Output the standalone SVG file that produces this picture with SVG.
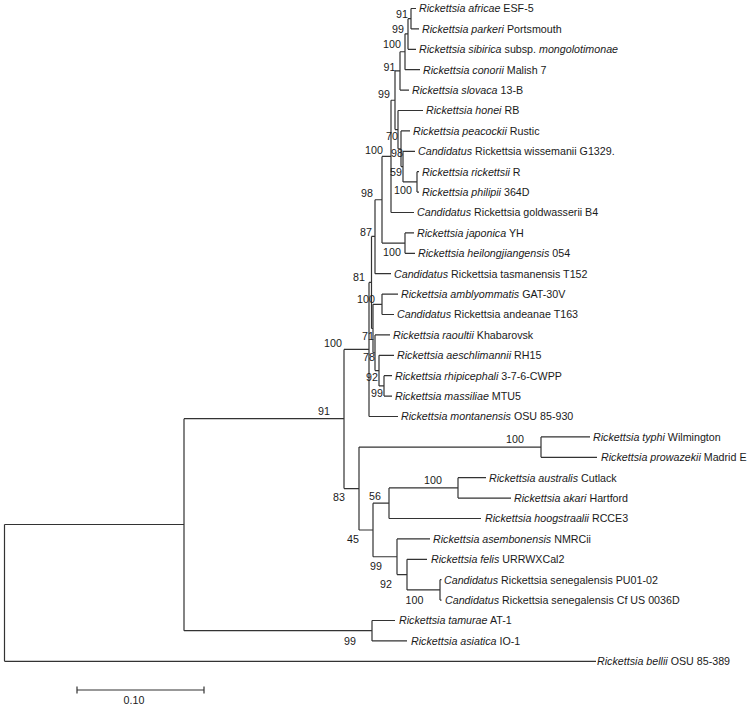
<svg xmlns="http://www.w3.org/2000/svg" width="749" height="706" viewBox="0 0 749 706">
<style>
text{font-family:"Liberation Sans",Arial,sans-serif;font-size:10.7px;fill:#1a1a1a}
.i{font-style:italic}
.bs{text-anchor:middle}
.br{fill:none;stroke:#333;stroke-width:1.2}
</style>
<rect width="749" height="706" fill="#fff"/>
<g id="connectors">
<path class="br" d="
M4.5 524.5V661.3 M4.5 661.3H596 M4.5 524.5H184
M184 418.7V630.7 M184 418.7H344 M184 630.7H372
M372 620.5V640.9 M372 620.5H395 M372 640.9H407
M344 349.45V488.55 M344 349.45H369 M344 488.55H359
M359 447.1V530 M359 447.1H541 M359 530H373
M541 436.9V457.3 M541 436.9H590 M541 457.3H597
M373 503.2V556.75 M373 503.2H389 M373 556.75H397
M389 487.9V518.5 M389 487.9H458 M389 518.5H481
M458 477.7V498.1 M458 477.7H486 M458 498.1H511
M397 538.9V574.6 M397 538.9H430 M397 574.6H407
M407 559.3V589.9 M407 559.3H427 M407 589.9H440
M440 579.7V600.1 M440 579.7H441.5 M440 600.1H441.5
M369 282.4V416.5 M369 282.4H371.5 M369 416.5H398
M371.5 236.4V328.5 M371.5 236.4H375 M371.5 328.5H373
M375 199.75V273.7 M375 199.75H382 M375 273.7H391
M382 156.4V243.1 M382 156.4H391 M382 243.1H405
M405 232.9V253.3 M405 232.9H414 M405 253.3H415
M391 100.25V212.5 M391 100.25H395 M391 212.5H414
M395 70.9V129.6 M395 70.9H400 M395 129.6H398
M400 51.75V90.1 M400 51.75H405 M400 90.1H409
M405 33.8V69.7 M405 33.8H408 M405 69.7H420
M408 18.7V49.3 M408 18.7H411 M408 49.3H416
M411 8.5V28.9 M411 8.5H416 M411 28.9H419
M398 110.5V148.75 M398 110.5H423 M398 148.75H401
M401 130.9V166.6 M401 130.9H410 M401 166.6H403
M403 151.3V181.9 M403 151.3H415 M403 181.9H417
M417 171.7V192.1 M417 171.7H419 M417 192.1H419
M373 304.3V352.75 M373 304.3H382 M373 352.75H375
M382 294.1V314.5 M382 294.1H398 M382 314.5H394
M375 334.9V370.6 M375 334.9H390 M375 370.6H379
M379 355.3V385.9 M379 355.3H394 M379 385.9H384
M384 375.7V396.1 M384 375.7H392 M384 396.1H392
"/>
</g>
<g id="leaf-africae"><text x="419" y="12.3"><tspan class="i">Rickettsia africae</tspan> ESF-5</text></g>
<g id="leaf-parkeri"><text x="422" y="32.7"><tspan class="i">Rickettsia parkeri</tspan> Portsmouth</text></g>
<g id="leaf-sibirica"><text x="419" y="53.1"><tspan class="i">Rickettsia sibirica</tspan> subsp. <tspan class="i">mongolotimonae</tspan></text></g>
<g id="leaf-conorii"><text x="423" y="73.5"><tspan class="i">Rickettsia conorii</tspan> Malish 7</text></g>
<g id="leaf-slovaca"><text x="412" y="93.9"><tspan class="i">Rickettsia slovaca</tspan> 13-B</text></g>
<g id="leaf-honei"><text x="426" y="114.3"><tspan class="i">Rickettsia honei</tspan> RB</text></g>
<g id="leaf-peacockii"><text x="413" y="134.7"><tspan class="i">Rickettsia peacockii</tspan> Rustic</text></g>
<g id="leaf-wissemanii"><text x="418" y="155.1"><tspan class="i">Candidatus</tspan> Rickettsia wissemanii G1329.</text></g>
<g id="leaf-rickettsii"><text x="422" y="175.5"><tspan class="i">Rickettsia rickettsii</tspan> R</text></g>
<g id="leaf-philipii"><text x="422" y="195.9"><tspan class="i">Rickettsia philipii</tspan> 364D</text></g>
<g id="leaf-goldwasserii"><text x="417" y="216.3"><tspan class="i">Candidatus</tspan> Rickettsia goldwasserii B4</text></g>
<g id="leaf-japonica"><text x="417" y="236.7"><tspan class="i">Rickettsia japonica</tspan> YH</text></g>
<g id="leaf-heilongjiangensis"><text x="418" y="257.1"><tspan class="i">Rickettsia heilongjiangensis</tspan> 054</text></g>
<g id="leaf-tasmanensis"><text x="394" y="277.5"><tspan class="i">Candidatus</tspan> Rickettsia tasmanensis T152</text></g>
<g id="leaf-amblyommatis"><text x="401" y="297.9"><tspan class="i">Rickettsia amblyommatis</tspan> GAT-30V</text></g>
<g id="leaf-andeanae"><text x="397" y="318.3"><tspan class="i">Candidatus</tspan> Rickettsia andeanae T163</text></g>
<g id="leaf-raoultii"><text x="393" y="338.7"><tspan class="i">Rickettsia raoultii</tspan> Khabarovsk</text></g>
<g id="leaf-aeschlimannii"><text x="397" y="359.1"><tspan class="i">Rickettsia aeschlimannii</tspan> RH15</text></g>
<g id="leaf-rhipicephali"><text x="395" y="379.5"><tspan class="i">Rickettsia rhipicephali</tspan> 3-7-6-CWPP</text></g>
<g id="leaf-massiliae"><text x="395" y="399.9"><tspan class="i">Rickettsia massiliae</tspan> MTU5</text></g>
<g id="leaf-montanensis"><text x="401" y="420.3"><tspan class="i">Rickettsia montanensis</tspan> OSU 85-930</text></g>
<g id="leaf-typhi"><text x="593" y="440.7"><tspan class="i">Rickettsia typhi</tspan> Wilmington</text></g>
<g id="leaf-prowazekii"><text x="601" y="461.1"><tspan class="i">Rickettsia prowazekii</tspan> Madrid E</text></g>
<g id="leaf-australis"><text x="489" y="481.5"><tspan class="i">Rickettsia australis</tspan> Cutlack</text></g>
<g id="leaf-akari"><text x="514" y="501.9"><tspan class="i">Rickettsia akari</tspan> Hartford</text></g>
<g id="leaf-hoogstraalii"><text x="485" y="522.3"><tspan class="i">Rickettsia hoogstraalii</tspan> RCCE3</text></g>
<g id="leaf-asembonensis"><text x="433" y="542.7"><tspan class="i">Rickettsia asembonensis</tspan> NMRCii</text></g>
<g id="leaf-felis"><text x="431" y="563.1"><tspan class="i">Rickettsia felis</tspan> URRWXCal2</text></g>
<g id="leaf-senegalensis-pu"><text x="444" y="583.5"><tspan class="i">Candidatus</tspan> Rickettsia senegalensis PU01-02</text></g>
<g id="leaf-senegalensis-cf"><text x="445" y="603.9"><tspan class="i">Candidatus</tspan> Rickettsia senegalensis Cf US 0036D</text></g>
<g id="leaf-tamurae"><text x="399" y="624.3"><tspan class="i">Rickettsia tamurae</tspan> AT-1</text></g>
<g id="leaf-asiatica"><text x="411" y="644.7"><tspan class="i">Rickettsia asiatica</tspan> IO-1</text></g>
<g id="leaf-bellii"><text x="597" y="665.1"><tspan class="i">Rickettsia bellii</tspan> OSU 85-389</text></g>
<g id="bootstrap">
<text class="bs" x="402" y="17.8">91</text>
<text class="bs" x="398" y="32.8">99</text>
<text class="bs" x="392" y="47.8">100</text>
<text class="bs" x="389.5" y="70.5">91</text>
<text class="bs" x="384" y="97.8">99</text>
<text class="bs" x="392" y="139.5">70</text>
<text class="bs" x="397" y="156.8">98</text>
<text class="bs" x="396" y="175.8">59</text>
<text class="bs" x="403" y="193.8">100</text>
<text class="bs" x="374" y="153.8">100</text>
<text class="bs" x="367" y="196.5">98</text>
<text class="bs" x="366" y="235.5">87</text>
<text class="bs" x="392" y="256">100</text>
<text class="bs" x="359" y="280.5">81</text>
<text class="bs" x="366" y="302.8">100</text>
<text class="bs" x="368" y="339.5">71</text>
<text class="bs" x="369" y="361.1">78</text>
<text class="bs" x="372" y="380.5">92</text>
<text class="bs" x="377" y="397.1">99</text>
<text class="bs" x="333" y="346.8">100</text>
<text class="bs" x="324" y="415">91</text>
<text class="bs" x="339" y="500.8">83</text>
<text class="bs" x="515" y="443.1">100</text>
<text class="bs" x="375" y="499.5">56</text>
<text class="bs" x="433" y="483.8">100</text>
<text class="bs" x="353" y="542.8">45</text>
<text class="bs" x="376" y="569.5">99</text>
<text class="bs" x="386" y="587.5">92</text>
<text class="bs" x="414.5" y="603.8">100</text>
<text class="bs" x="350" y="645">99</text>
</g>
<g id="scale-bar">
<path class="br" d="M77 690H204 M77 686.5V693.5 M204 686.5V693.5"/>
<text class="bs" x="134" y="703.5">0.10</text>
</g>
</svg>
